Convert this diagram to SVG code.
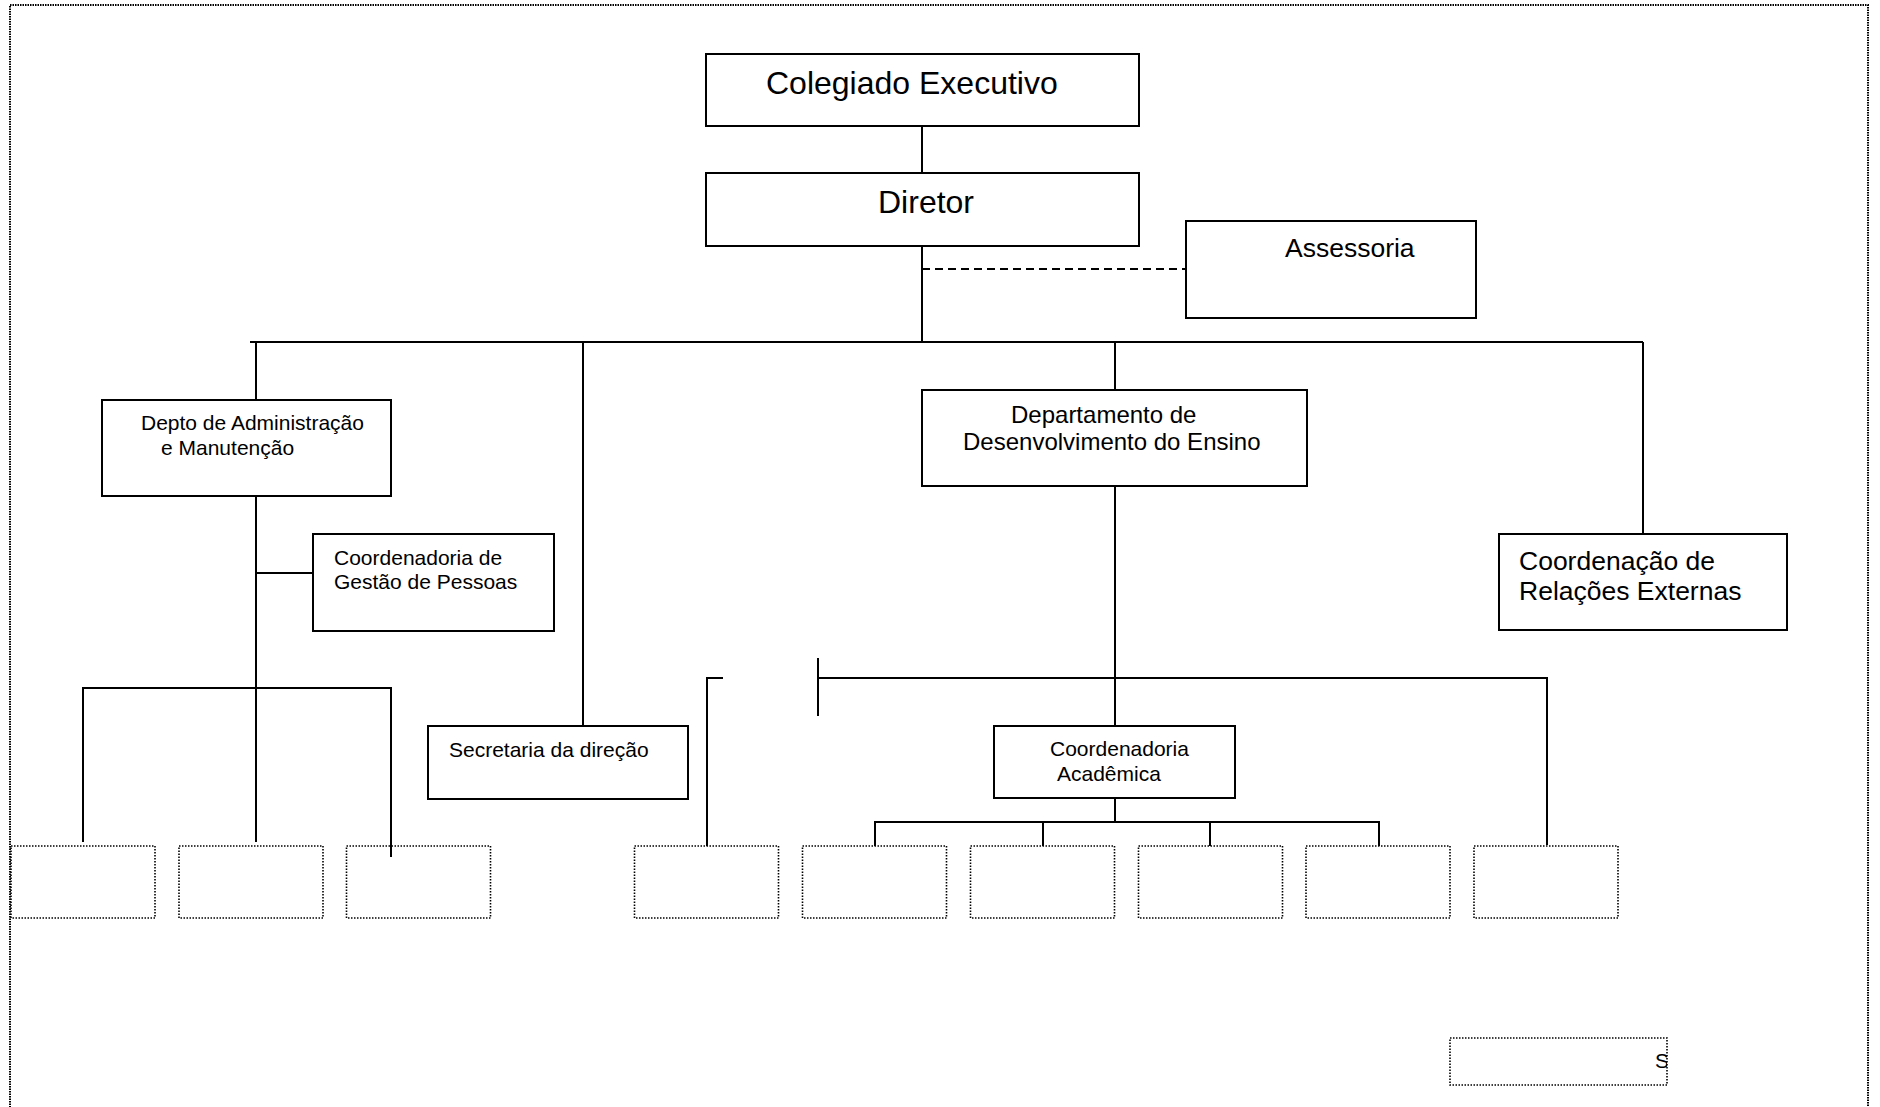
<svg xmlns="http://www.w3.org/2000/svg" width="1880" height="1107" viewBox="0 0 1880 1107">
  <defs>
    <style>
      .box { fill: #ffffff; stroke: #000; stroke-width: 2; }
      .dot { fill: none; stroke: #000; stroke-width: 1.6; stroke-dasharray: 1.5 1.5; }
      .frame { fill: none; stroke: #000; stroke-width: 2; stroke-dasharray: 1.5 1; }
      .ln { fill: none; stroke: #000; stroke-width: 2; }
      .dash { fill: none; stroke: #000; stroke-width: 2; stroke-dasharray: 8 5; }
      text { font-family: "Liberation Sans", Arial, sans-serif; fill: #000; }
      .t32 { font-size: 32px; }
      .t26 { font-size: 26.5px; }
      .t24 { font-size: 24px; }
      .t21 { font-size: 21px; }
    </style>
    <clipPath id="clipS">
      <rect x="1450" y="1037" width="217" height="48"/>
    </clipPath>
  </defs>
  <rect width="1880" height="1107" fill="#ffffff"/>
  <path class="frame" d="M10,1110 V5 H1868 V1110"/>

  <g id="connectors">
    <line class="ln" x1="922" y1="126" x2="922" y2="173"/>
    <line class="ln" x1="922" y1="246" x2="922" y2="342"/>
    <line class="dash" x1="922" y1="269" x2="1186" y2="269"/>
    <line class="ln" x1="250" y1="342" x2="1643" y2="342"/>
    <line class="ln" x1="256" y1="342" x2="256" y2="400"/>
    <line class="ln" x1="583" y1="342" x2="583" y2="726"/>
    <line class="ln" x1="1115" y1="342" x2="1115" y2="390"/>
    <line class="ln" x1="1643" y1="342" x2="1643" y2="534"/>
    <line class="ln" x1="256" y1="496" x2="256" y2="842"/>
    <line class="ln" x1="256" y1="573" x2="313" y2="573"/>
    <path class="ln" d="M83,842 V688 H391 V857"/>
    <line class="ln" x1="1115" y1="486" x2="1115" y2="726"/>
    <path class="ln" d="M707,846 V678 H723"/>
    <line class="ln" x1="818" y1="658" x2="818" y2="716"/>
    <path class="ln" d="M818,678 H1547 V845"/>
    <line class="ln" x1="1115" y1="798" x2="1115" y2="822"/>
    <path class="ln" d="M875,846 V822 H1379 V846"/>
    <line class="ln" x1="1043" y1="822" x2="1043" y2="846"/>
    <line class="ln" x1="1210" y1="822" x2="1210" y2="846"/>
  </g>

  <g id="colegiado">
    <rect class="box" x="706" y="54" width="433" height="72"/>
    <text class="t32" x="766" y="94">Colegiado Executivo</text>
  </g>
  <g id="diretor">
    <rect class="box" x="706" y="173" width="433" height="73"/>
    <text class="t32" x="878" y="213">Diretor</text>
  </g>
  <g id="assessoria">
    <rect class="box" x="1186" y="221" width="290" height="97"/>
    <text class="t26" x="1285" y="257">Assessoria</text>
  </g>
  <g id="depto-admin">
    <rect class="box" x="102" y="400" width="289" height="96"/>
    <text class="t21" x="141" y="430">Depto de Administração</text>
    <text class="t21" x="161" y="455">e Manutenção</text>
  </g>
  <g id="coord-gestao">
    <rect class="box" x="313" y="534" width="241" height="97"/>
    <text class="t21" x="334" y="565">Coordenadoria de</text>
    <text class="t21" x="334" y="589">Gestão de Pessoas</text>
  </g>
  <g id="secretaria">
    <rect class="box" x="428" y="726" width="260" height="73"/>
    <text class="t21" x="449" y="757">Secretaria da direção</text>
  </g>
  <g id="depto-ensino">
    <rect class="box" x="922" y="390" width="385" height="96"/>
    <text class="t24" x="1011" y="423">Departamento de</text>
    <text class="t24" x="963" y="450">Desenvolvimento do Ensino</text>
  </g>
  <g id="coord-relacoes">
    <rect class="box" x="1499" y="534" width="288" height="96"/>
    <text class="t26" x="1519" y="570">Coordenação de</text>
    <text class="t26" x="1519" y="600">Relações Externas</text>
  </g>
  <g id="coord-academica">
    <rect class="box" x="994" y="726" width="241" height="72"/>
    <text class="t21" x="1050" y="756">Coordenadoria</text>
    <text class="t21" x="1057" y="781">Acadêmica</text>
  </g>

  <g id="empty-1"><rect class="dot" x="11" y="846" width="144" height="72"/></g>
  <g id="empty-2"><rect class="dot" x="179" y="846" width="144" height="72"/></g>
  <g id="empty-3"><rect class="dot" x="346.5" y="846" width="144" height="72"/></g>
  <g id="empty-4"><rect class="dot" x="634.5" y="846" width="144" height="72"/></g>
  <g id="empty-5"><rect class="dot" x="802.5" y="846" width="144" height="72"/></g>
  <g id="empty-6"><rect class="dot" x="970.5" y="846" width="144" height="72"/></g>
  <g id="empty-7"><rect class="dot" x="1138.5" y="846" width="144" height="72"/></g>
  <g id="empty-8"><rect class="dot" x="1306" y="846" width="144" height="72"/></g>
  <g id="empty-9"><rect class="dot" x="1474" y="846" width="144" height="72"/></g>
  <g id="empty-10">
    <rect class="dot" x="1450" y="1038" width="217" height="47"/>
    <text class="t21" x="1655" y="1068" clip-path="url(#clipS)">S</text>
  </g>
</svg>
